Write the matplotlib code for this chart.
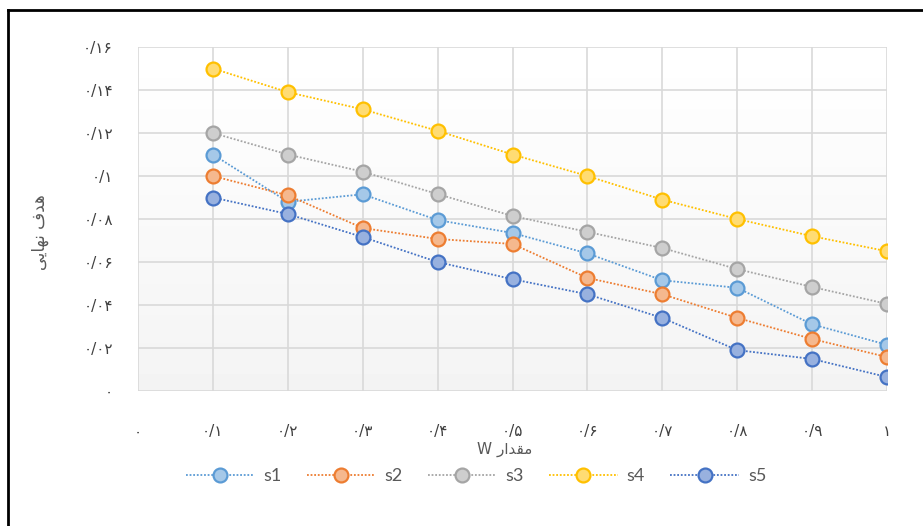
#!/usr/bin/env python

import numpy as np
import matplotlib
matplotlib.use('Agg')
import matplotlib.pyplot as plt
from matplotlib.colors import to_rgb


# ----------------------------------------------------------------------
# Data
# ----------------------------------------------------------------------

w = [0.1, 0.2, 0.3, 0.4, 0.5, 0.6, 0.7, 0.8, 0.9, 1.0]

s1 = [0.110, 0.088, 0.0915, 0.0795, 0.0735, 0.064, 0.0515, 0.048, 0.031, 0.0215]
s2 = [0.100, 0.091, 0.0758, 0.0707, 0.0684, 0.0526, 0.045, 0.034, 0.0242, 0.0158]
s3 = [0.120, 0.110, 0.102, 0.0916, 0.0814, 0.074, 0.0665, 0.0567, 0.0484, 0.0405]
s4 = [0.150, 0.139, 0.131, 0.121, 0.110, 0.100, 0.089, 0.080, 0.072, 0.065]
s5 = [0.090, 0.0823, 0.0716, 0.060, 0.052, 0.045, 0.034, 0.019, 0.0149, 0.0065]

series_names = ['s1', 's2', 's3', 's4', 's5']
series_colors = ['#5B9BD5', '#ED7D31', '#A5A5A5', '#FFC000', '#4472C4']

x_ticks = [0, 0.1, 0.2, 0.3, 0.4, 0.5, 0.6, 0.7, 0.8, 0.9, 1.0]
x_tick_labels = ['۰', '۰/۱', '۰/۲', '۰/۳', '۰/۴', '۰/۵',
                 '۰/۶', '۰/۷', '۰/۸', '۰/۹', '۱']
y_ticks = [0, 0.02, 0.04, 0.06, 0.08, 0.10, 0.12, 0.14, 0.16]
y_tick_labels = ['۰', '۰/۰۲', '۰/۰۴', '۰/۰۶', '۰/۰۸', '۰/۱',
                 '۰/۱۲', '۰/۱۴', '۰/۱۶']

# axis titles, written in shaped (presentation) forms in visual order
# "هدف نهایی" and "مقدار W"
y_title = '\uFBFD\uFBFE\uFE8E\uFEEC\uFEE7 \uFED1\uFEAA\uFEEB'
x_title = 'W \uFEAD\uFE8D\uFEAA\uFED8\uFEE3'


def lighter(c, f=0.45):
    r, g, b = to_rgb(c)
    return (r + (1 - r) * f, g + (1 - g) * f, b + (1 - b) * f)


# ----------------------------------------------------------------------
# Plot
# ----------------------------------------------------------------------

W, H = 923, 526
fig = plt.figure(figsize=(W / 100, H / 100), dpi=100)

left, right, top, bottom = 138, 887, 47, 391
ax = fig.add_axes([left / W, 1 - bottom / H, (right - left) / W,
                   (bottom - top) / H])

# faint background gradient like the original plot area
grad = np.linspace(1.0, 0.955, 100).reshape(-1, 1)
ax.imshow(grad, extent=(0, 1, 0, 0.16), aspect='auto', cmap='gray',
          vmin=0, vmax=1, zorder=0)

all_series = [s1, s2, s3, s4, s5]
for name, vals, col in zip(series_names, all_series, series_colors):
    ax.plot(w, vals, linestyle=(0, (1, 1)), linewidth=1.3, color=col,
            marker='o', markersize=10, markerfacecolor=lighter(col),
            markeredgecolor=col, markeredgewidth=1.6, label=name, zorder=3)

ax.set_xlim(0, 1)
ax.set_ylim(0, 0.16)
ax.set_xticks(x_ticks)
ax.set_xticklabels(x_tick_labels, family='DejaVu Sans', fontsize=11,
                   color='#404040')
ax.set_yticks(y_ticks)
ax.set_yticklabels(y_tick_labels, family='DejaVu Sans', fontsize=11,
                   color='#404040')
ax.tick_params(length=0)
ax.tick_params(axis='x', pad=24)
ax.tick_params(axis='y', pad=18)
ax.grid(True, color='#D9D9D9', linewidth=1.2, zorder=1)
ax.set_axisbelow(True)
for sp in ax.spines.values():
    sp.set_visible(False)

fig.text(40 / W, 1 - 232 / H, y_title, rotation=90, ha='center',
         va='center', family='DejaVu Sans', fontsize=12, color='#595959')
fig.text(505 / W, 1 - 449 / H, x_title, ha='center', va='center',
         family='DejaVu Sans', fontsize=11, color='#595959')

leg = fig.legend(loc='center', bbox_to_anchor=(476 / W, 1 - 476 / H),
                 ncol=5, frameon=False, handlelength=3.8,
                 handletextpad=0.5, columnspacing=1.4,
                 prop={'family': 'Lato', 'size': 13})
for t in leg.get_texts():
    t.set_color('#595959')

# frame lines at top and left of the image
fig.add_artist(plt.Line2D([8 / W, 8 / W], [0, 1 - 10 / H],
                          color='black', linewidth=2))
fig.add_artist(plt.Line2D([8 / W, 1], [1 - 10 / H, 1 - 10 / H],
                          color='black', linewidth=2))

plt.savefig('out.png', dpi=100)
plt.close()
